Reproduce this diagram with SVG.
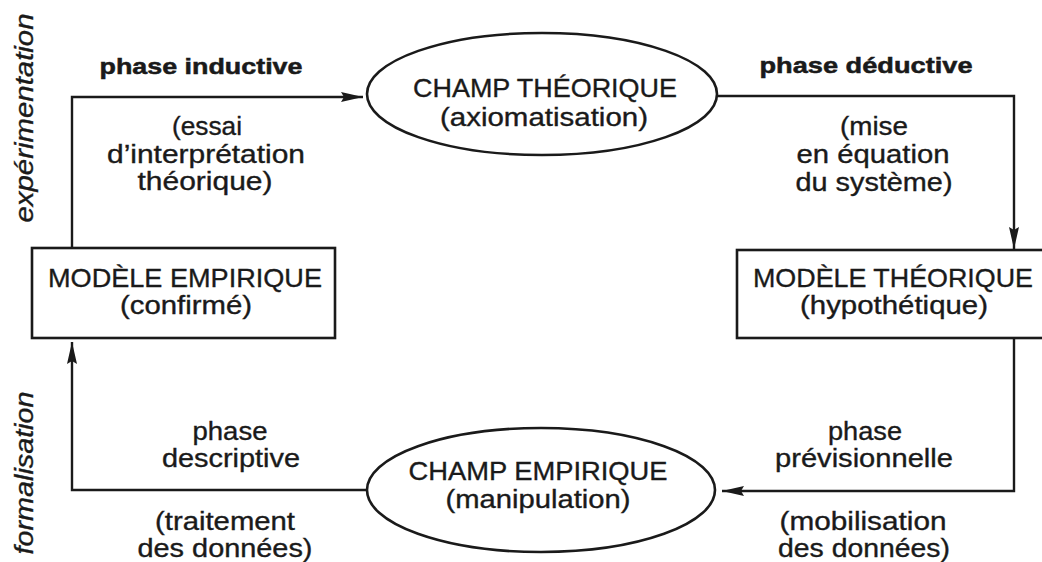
<svg xmlns="http://www.w3.org/2000/svg" width="1042" height="562" viewBox="0 0 1042 562">
  <style>
    text { font-family: "Liberation Sans", Arial, sans-serif; fill: #1a1a1a; stroke: #1a1a1a; stroke-width: 0.35; text-anchor: middle; }
    .cap { font-size: 26px; }
    .txt { font-size: 25px; }
    .bold { font-size: 22px; font-weight: bold; stroke-width: 0.5; }
    .side { font-size: 25px; font-style: italic; }
    .shape { fill: #ffffff; stroke: #1a1a1a; stroke-width: 2.6; }
    .link { fill: none; stroke: #1a1a1a; stroke-width: 2.4; }
  </style>
  <defs>
    <marker id="arrow" viewBox="0 0 22 12" refX="22" refY="6" markerWidth="22" markerHeight="12" markerUnits="userSpaceOnUse" orient="auto">
      <path d="M0,1 L22,6 L0,11 L3,6 Z" fill="#1a1a1a"/>
    </marker>
  </defs>
  <rect width="1042" height="562" fill="#ffffff"/>

  <!-- connectors -->
  <g id="connectors">
    <polyline class="link" points="72,248 72,97 363,97" marker-end="url(#arrow)"/>
    <polyline class="link" points="717,96 1014,96 1014,249" marker-end="url(#arrow)"/>
    <polyline class="link" points="1014,338 1014,491 722,491" marker-end="url(#arrow)"/>
    <polyline class="link" points="367,490 72,490 72,342" marker-end="url(#arrow)"/>
  </g>

  <!-- side labels -->
  <text class="side" transform="translate(33,118) rotate(-90)" textLength="209" lengthAdjust="spacingAndGlyphs">expérimentation</text>
  <text class="side" transform="translate(33,473) rotate(-90)" textLength="163" lengthAdjust="spacingAndGlyphs">formalisation</text>

  <!-- edge labels -->
  <g id="label-inductive">
    <text class="bold" x="201" y="74" textLength="203" lengthAdjust="spacingAndGlyphs">phase inductive</text>
    <text class="txt" x="207" y="135" textLength="70" lengthAdjust="spacingAndGlyphs">(essai</text>
    <text class="txt" x="206" y="163" textLength="198" lengthAdjust="spacingAndGlyphs">d’interprétation</text>
    <text class="txt" x="205" y="190" textLength="135" lengthAdjust="spacingAndGlyphs">théorique)</text>
  </g>
  <g id="label-deductive">
    <text class="bold" x="866" y="73" textLength="213" lengthAdjust="spacingAndGlyphs">phase déductive</text>
    <text class="txt" x="874" y="135" textLength="68" lengthAdjust="spacingAndGlyphs">(mise</text>
    <text class="txt" x="873" y="163" textLength="153" lengthAdjust="spacingAndGlyphs">en équation</text>
    <text class="txt" x="874" y="191" textLength="157" lengthAdjust="spacingAndGlyphs">du système)</text>
  </g>
  <g id="label-previsionnelle">
    <text class="txt" x="865" y="440" textLength="74" lengthAdjust="spacingAndGlyphs">phase</text>
    <text class="txt" x="864" y="467" textLength="178" lengthAdjust="spacingAndGlyphs">prévisionnelle</text>
    <text class="txt" x="863" y="530" textLength="167" lengthAdjust="spacingAndGlyphs">(mobilisation</text>
    <text class="txt" x="864" y="557" textLength="172" lengthAdjust="spacingAndGlyphs">des données)</text>
  </g>
  <g id="label-descriptive">
    <text class="txt" x="230" y="440" textLength="75" lengthAdjust="spacingAndGlyphs">phase</text>
    <text class="txt" x="231" y="467" textLength="138" lengthAdjust="spacingAndGlyphs">descriptive</text>
    <text class="txt" x="225" y="530" textLength="140" lengthAdjust="spacingAndGlyphs">(traitement</text>
    <text class="txt" x="225" y="557" textLength="175" lengthAdjust="spacingAndGlyphs">des données)</text>
  </g>

  <!-- nodes -->
  <g id="champ-theorique">
    <ellipse class="shape" cx="542" cy="94" rx="175" ry="61"/>
    <text class="cap" x="545" y="97" textLength="264" lengthAdjust="spacingAndGlyphs">CHAMP THÉORIQUE</text>
    <text class="txt" x="544" y="126" font-size="24" textLength="208" lengthAdjust="spacingAndGlyphs">(axiomatisation)</text>
  </g>
  <g id="modele-theorique">
    <rect class="shape" x="737" y="250" width="320" height="88"/>
    <text class="cap" x="893" y="287" textLength="280" lengthAdjust="spacingAndGlyphs">MODÈLE THÉORIQUE</text>
    <text class="txt" x="894" y="314" textLength="188" lengthAdjust="spacingAndGlyphs">(hypothétique)</text>
  </g>
  <g id="champ-empirique">
    <ellipse class="shape" cx="541" cy="490" rx="174" ry="62"/>
    <text class="cap" x="538" y="480" textLength="259" lengthAdjust="spacingAndGlyphs">CHAMP EMPIRIQUE</text>
    <text class="txt" x="538" y="508" textLength="185" lengthAdjust="spacingAndGlyphs">(manipulation)</text>
  </g>
  <g id="modele-empirique">
    <rect class="shape" x="32" y="248" width="303" height="90"/>
    <text class="cap" x="185" y="287" textLength="274" lengthAdjust="spacingAndGlyphs">MODÈLE EMPIRIQUE</text>
    <text class="txt" x="186" y="314" textLength="132" lengthAdjust="spacingAndGlyphs">(confirmé)</text>
  </g>
</svg>
